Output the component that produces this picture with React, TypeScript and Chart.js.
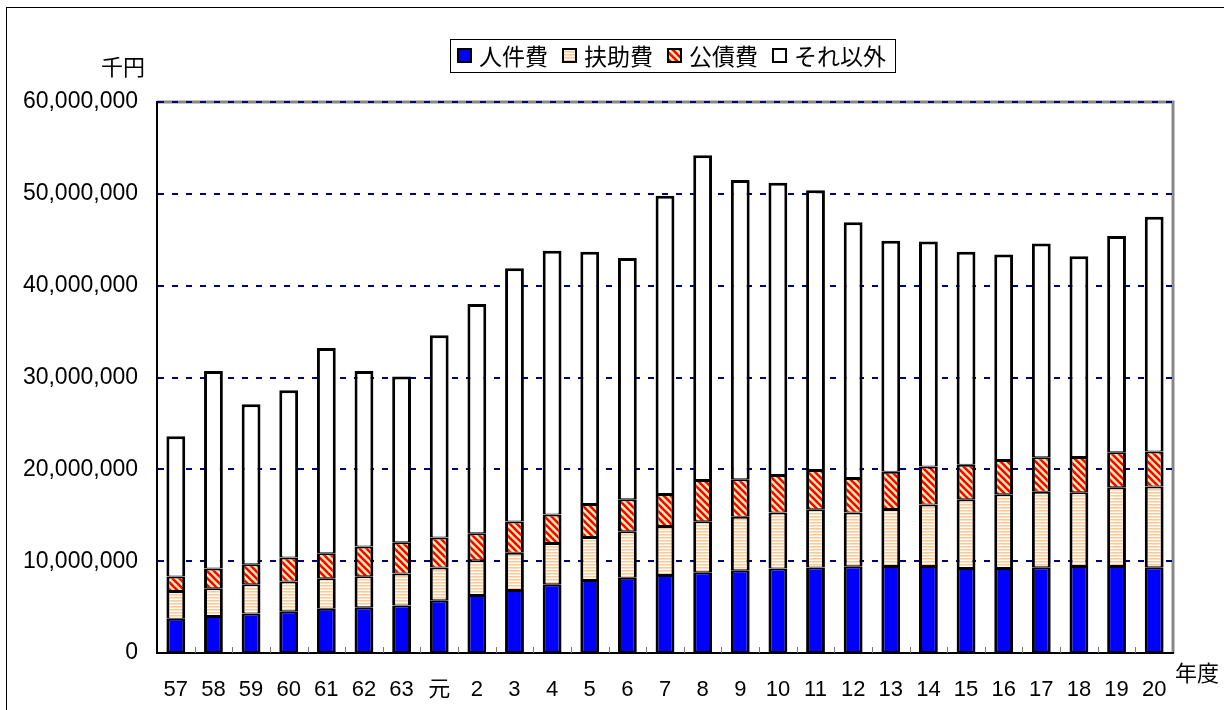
import React, { useEffect, useRef } from "react";
import { Chart, registerables } from "chart.js";

Chart.register(...registerables);

const labels = ["57","58","59","60","61","62","63","元","2","3","4","5","6","7","8","9","10","11","12","13","14","15","16","17","18","19","20"];
const seriesNames = ["人件費", "扶助費", "公債費", "それ以外"];
const personnel = [3740000,4030000,4290000,4550000,4830000,4980000,5160000,5750000,6320000,6870000,7480000,7950000,8200000,8500000,8790000,9010000,9190000,9300000,9450000,9480000,9480000,9260000,9260000,9330000,9480000,9480000,9330000];
const assistance = [3020000,3020000,3200000,3230000,3320000,3380000,3490000,3550000,3790000,4050000,4500000,4690000,5050000,5330000,5550000,5840000,6100000,6350000,5840000,6210000,6680000,7480000,8030000,8240000,8020000,8570000,8790000];
const debt = [1560000,2140000,2180000,2610000,2720000,3230000,3420000,3270000,2940000,3390000,3090000,3590000,3490000,3490000,4510000,4070000,4100000,4280000,3760000,4060000,4140000,3770000,3730000,3750000,3850000,3810000,3810000];
const others = [15280000,21510000,17430000,18210000,22330000,19110000,18030000,22030000,24950000,27590000,28730000,27470000,26260000,32480000,35350000,32580000,31810000,30470000,27850000,25150000,24500000,23190000,22380000,23280000,21850000,23540000,25570000];
const yTicks = [0, 10000000, 20000000, 30000000, 40000000, 50000000, 60000000];

const FONT_NUM = "'Liberation Sans', 'Noto Sans CJK JP', sans-serif";
const FONT_JP = "'Noto Sans CJK JP', sans-serif";

function makeHStripe(): CanvasPattern | string {
  const c = document.createElement("canvas");
  c.width = 3; c.height = 3;
  const g = c.getContext("2d");
  if (!g) return "#FFDDBB";
  g.fillStyle = "#FFFFFF";
  g.fillRect(0, 0, 3, 3);
  g.fillStyle = "#FFC896";
  g.fillRect(0, 0, 3, 1);
  g.fillStyle = "#FFE0C0";
  g.fillRect(0, 1, 3, 1);
  return g.createPattern(c, "repeat") || "#FFDDBB";
}

function makeDiag(): CanvasPattern | string {
  const s = 7;
  const c = document.createElement("canvas");
  c.width = s; c.height = s;
  const g = c.getContext("2d");
  if (!g) return "#FF0000";
  g.fillStyle = "#FFF0B0";
  g.fillRect(0, 0, s, s);
  g.strokeStyle = "#FF0000";
  g.lineWidth = 2.6;
  for (const o of [-s, 0, s]) {
    g.beginPath();
    g.moveTo(o - 1, -1);
    g.lineTo(o + s + 1, s + 1);
    g.stroke();
  }
  return g.createPattern(c, "repeat") || "#FF0000";
}

const decorPlugin = {
  id: "decor",
  beforeDraw(chart: any) {
    const { ctx, chartArea } = chart;
    ctx.save();
    ctx.fillStyle = "#FFFFFF";
    ctx.fillRect(0, 0, chart.width, chart.height);
    ctx.strokeStyle = "#000000";
    ctx.lineWidth = 1;
    ctx.strokeRect(6.5, 7.5, 1400, 900);
    ctx.strokeStyle = "#888888";
    ctx.lineWidth = 3;
    ctx.beginPath();
    ctx.moveTo(chartArea.left, chartArea.top);
    ctx.lineTo(chartArea.right, chartArea.top);
    ctx.lineTo(chartArea.right, chartArea.bottom);
    ctx.stroke();
    ctx.restore();
  },
  afterDatasetsDraw(chart: any) {
    const { ctx, chartArea } = chart;
    const n = labels.length;
    const w = (chartArea.right - chartArea.left) / n;
    ctx.save();
    ctx.strokeStyle = "#777777";
    ctx.lineWidth = 1;
    for (let i = 1; i < n; i++) {
      const x = Math.round(chartArea.left + i * w) + 0.5;
      ctx.beginPath();
      ctx.moveTo(x, chartArea.bottom);
      ctx.lineTo(x, chartArea.bottom - 6);
      ctx.stroke();
    }
    ctx.restore();
  },
  afterDraw(chart: any) {
    const { ctx } = chart;
    ctx.save();
    ctx.fillStyle = "#000000";
    ctx.font = `22px ${FONT_JP}`;
    ctx.textAlign = "center";
    ctx.textBaseline = "middle";
    ctx.fillText("千円", 123, 67);
    ctx.fillText("年度", 1197, 673);
    ctx.font = `23px ${FONT_JP}`;
    ctx.textAlign = "left";
    let x = 457;
    const by = 48;
    chart.data.datasets.forEach((ds: any) => {
      ctx.fillStyle = ds.backgroundColor;
      ctx.fillRect(x, by, 15, 15);
      ctx.strokeStyle = "#000000";
      ctx.lineWidth = 2;
      ctx.strokeRect(x + 1, by + 1, 13, 13);
      ctx.fillStyle = "#000000";
      ctx.fillText(ds.label, x + 22, by + 8);
      x += 22 + ctx.measureText(ds.label).width + 14;
    });
    ctx.strokeStyle = "#000000";
    ctx.lineWidth = 1;
    ctx.strokeRect(450.5, 39.5, 445, 33);
    ctx.restore();
  },
};

export default function App() {
  const ref = useRef<HTMLCanvasElement | null>(null);
  useEffect(() => {
    if (!ref.current) return;
    const hs = makeHStripe();
    const dg = makeDiag();
    const common = {
      borderColor: "#000000",
      borderWidth: { top: 2, bottom: 1, left: 3, right: 3 },
      borderSkipped: false,
      barPercentage: 0.5,
      categoryPercentage: 1.0,
    };
    const chart = new Chart(ref.current, {
      type: "bar",
      data: {
        labels,
        datasets: [
          { label: seriesNames[0], data: personnel, backgroundColor: "#0000FF", ...common },
          { label: seriesNames[1], data: assistance, backgroundColor: hs, ...common },
          { label: seriesNames[2], data: debt, backgroundColor: dg, ...common },
          { label: seriesNames[3], data: others, backgroundColor: "#FFFFFF", ...common, borderWidth: { top: 3, bottom: 1, left: 3, right: 3 } },
        ] as any,
      },
      options: {
        responsive: false,
        animation: false,
        layout: { padding: { top: 102, right: 51, left: 0, bottom: 0 } },
        plugins: { legend: { display: false }, tooltip: { enabled: false } },
        scales: {
          x: {
            stacked: true,
            grid: { display: false },
            border: { display: true, color: "#000000", width: 2 },
            ticks: { color: "#000000", font: { family: FONT_NUM, size: 22 }, padding: 16, maxRotation: 0, autoSkip: false },
            afterFit: (s: any) => { s.height = 57; },
          },
          y: {
            stacked: true,
            min: 0,
            max: 60000000,
            afterBuildTicks: (s: any) => { s.ticks = yTicks.map((v) => ({ value: v })); },
            grid: { color: "#000080", lineWidth: 2, drawTicks: false },
            border: { display: true, color: "#000000", width: 2, dash: [6, 8] },
            ticks: {
              color: "#000000",
              font: { family: FONT_NUM, size: 23 },
              padding: 19,
              callback: (v: any) => Number(v).toLocaleString("en-US"),
            },
            afterFit: (s: any) => { s.width = 157; },
          },
        },
      } as any,
      plugins: [decorPlugin],
    });
    return () => chart.destroy();
  }, []);
  return (
    <canvas
      ref={ref}
      width={1224}
      height={710}
      style={{ position: "fixed", left: 0, top: 0, width: 1224, height: 710, display: "block" }}
    />
  );
}
